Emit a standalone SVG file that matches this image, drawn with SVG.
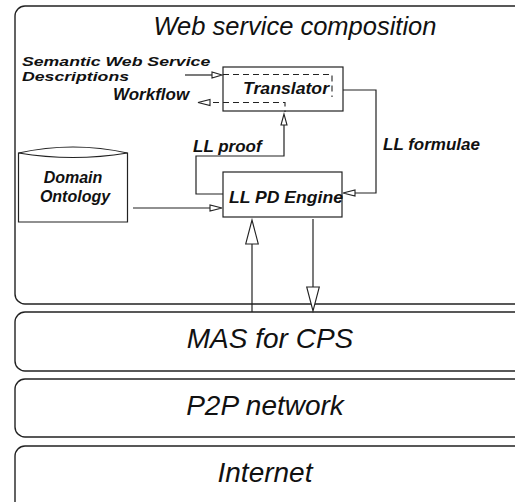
<svg xmlns="http://www.w3.org/2000/svg" width="515" height="502" viewBox="0 0 515 502">
  <defs>
    <style>
      .frame { fill: #fff; stroke: #222; stroke-width: 1.4; }
      .box { fill: #fff; stroke: #222; stroke-width: 1.2; }
      .line { fill: none; stroke: #222; stroke-width: 1.2; }
      .dash { fill: none; stroke: #222; stroke-width: 1.1; stroke-dasharray: 6 4; }
      .layer { font-family: "Liberation Sans", Arial, sans-serif; font-style: italic; font-size: 28px; fill: #111; text-anchor: middle; }
      .title { font-family: "Liberation Sans", Arial, sans-serif; font-style: italic; font-size: 25.5px; fill: #111; text-anchor: middle; }
      .lbl { font-family: "Liberation Sans", Arial, sans-serif; font-style: italic; font-weight: bold; font-size: 17px; fill: #111; }
      .lbl.small { font-size: 13.5px; }
      .lbl.mid { font-size: 16px; }
      .head { fill: #fff; stroke: #222; stroke-width: 1.1; }
    </style>
  </defs>

  <!-- stacked layers -->
  <g id="web-service-composition">
    <rect class="frame" x="15" y="6" width="520" height="298" rx="10"/>
    <text class="title" x="295" y="35">Web service composition</text>
  </g>
  <g id="mas-for-cps">
    <rect class="frame" x="15" y="312" width="520" height="59" rx="10"/>
    <text class="layer" x="270" y="348">MAS for CPS</text>
  </g>
  <g id="p2p-network">
    <rect class="frame" x="15" y="379" width="520" height="58" rx="10"/>
    <text class="layer" x="265" y="415">P2P network</text>
  </g>
  <g id="internet">
    <rect class="frame" x="15" y="446" width="520" height="70" rx="10"/>
    <text class="layer" x="265" y="482">Internet</text>
  </g>

  <!-- components inside the composition layer -->
  <g id="translator">
    <rect class="box" x="223" y="67" width="120" height="44"/>
    <path class="dash" d="M223,74.5 H332 V97"/>
    <path class="dash" d="M213,102.5 H285 V112"/>
    <text class="lbl" x="243" y="94" textLength="86" lengthAdjust="spacingAndGlyphs">Translator</text>
  </g>
  <g id="ll-pd-engine">
    <rect class="box" x="223" y="172" width="119" height="45"/>
    <text class="lbl" x="229" y="203" textLength="114" lengthAdjust="spacingAndGlyphs">LL PD Engine</text>
  </g>
  <g id="domain-ontology">
    <path class="box" d="M18.5,153 Q73,141 127.5,153 V222 H18.5 Z"/>
    <path class="line" d="M18.5,153 Q73,162 127.5,153"/>
    <text class="lbl mid" x="73" y="183" text-anchor="middle">Domain</text>
    <text class="lbl mid" x="75" y="202" text-anchor="middle">Ontology</text>
  </g>
  <g id="inputs-outputs">
    <!-- two-line input label, set in a wide bold face -->
    <text class="lbl small" transform="translate(22,0) scale(1.31,1)"><tspan x="0" y="65.8">Semantic Web Service</tspan><tspan x="0" y="81">Descriptions</tspan></text>
    <text class="lbl" x="113" y="100">Workflow</text>
    <text class="lbl" x="193" y="152">LL proof</text>
    <text class="lbl" x="383" y="150">LL formulae</text>
  </g>

  <!-- connectors -->
  <g id="connectors">
    <!-- descriptions into translator -->
    <path class="line" d="M185,75 H212"/>
    <path class="head" d="M222,75 L212,72 L212,78 Z"/>
    <!-- workflow out of translator -->
    <path class="head" d="M198,102.5 L210,99.5 L210,105.5 Z"/>
    <!-- LL formulae: translator to engine -->
    <path class="line" d="M343,90 H376 V193 H355"/>
    <path class="head" d="M343,193 L355,190 L355,196 Z"/>
    <!-- LL proof: engine to translator -->
    <path class="line" d="M223,194 H196 V156 H284 V125"/>
    <path class="head" d="M284,114 L281,125 L287,125 Z"/>
    <!-- domain ontology into engine -->
    <path class="line" d="M133,208 H210"/>
    <path class="head" d="M222,208 L210,205 L210,211 Z"/>
    <!-- MAS up to engine -->
    <path class="line" d="M252,312 V244"/>
    <path class="head" d="M252,220 L245.7,244 L258.3,244 Z"/>
    <!-- engine down to MAS -->
    <path class="line" d="M313,219 V287"/>
    <path class="head" d="M313,311 L306.7,287 L319.3,287 Z"/>
  </g>
</svg>
